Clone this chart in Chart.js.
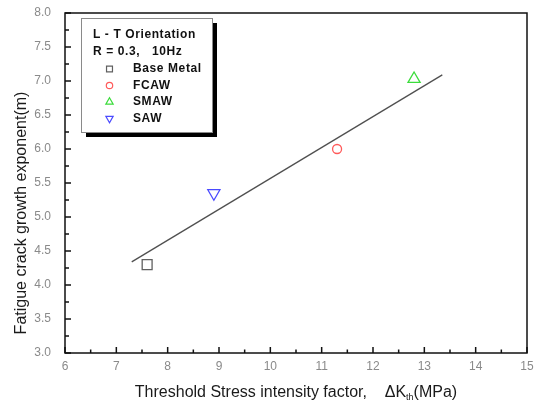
<!DOCTYPE html>
<html>
<head>
<meta charset="utf-8">
<script src="https://cdn.jsdelivr.net/npm/chart.js@4.4.1/dist/chart.umd.min.js"></script>
<style>
  html, body { margin: 0; padding: 0; background: #fff; }
  #wrap { width: 542px; height: 406px; }
</style>
</head>
<body>
<div id="wrap"><canvas id="fatigueChart" width="542" height="406"></canvas></div>
<script>
// Values
const seriesNames = ['Base Metal', 'FCAW', 'SMAW', 'SAW'];
const deltaKth = [7.6, 11.3, 12.8, 8.9];        // MPa
const exponentM = [4.3, 6.0, 7.03, 5.35];
const fitX = [7.3, 13.35];
const fitY = [4.34, 7.09];
const xTickValues = [6, 7, 8, 9, 10, 11, 12, 13, 14, 15];
const yTickValues = [3.0, 3.5, 4.0, 4.5, 5.0, 5.5, 6.0, 6.5, 7.0, 7.5, 8.0];
const legendHeader = ['L - T Orientation', 'R = 0.3,   10Hz'];

const FONT = "'Liberation Sans', Arial, sans-serif";

// marker look per series
const markerStyles = [
    { pointStyle: 'rect', rotation: 0, color: '#606060', radius: 7 },
    { pointStyle: 'circle', rotation: 0, color: '#ff5a5a', radius: 4.5 },
    { pointStyle: 'triangle', rotation: 0, color: '#3bdc3b', radius: 7 },
    { pointStyle: 'triangle', rotation: 180, color: '#4a4aff', radius: 7 }
];

const datasets = seriesNames.map((name, i) => ({
    type: 'scatter',
    label: name,
    data: [{ x: deltaKth[i], y: exponentM[i] }],
    pointStyle: markerStyles[i].pointStyle,
    rotation: markerStyles[i].rotation,
    pointRadius: markerStyles[i].radius,
    pointHoverRadius: markerStyles[i].radius,
    borderColor: markerStyles[i].color,
    backgroundColor: 'rgba(0,0,0,0)',
    pointBorderWidth: 1.3,
    order: 1
}));

datasets.push({
    type: 'line',
    label: 'fit',
    data: fitX.map((x, i) => ({ x: x, y: fitY[i] })),
    borderColor: '#505050',
    borderWidth: 1.3,
    pointRadius: 0,
    fill: false,
    order: 2
});

// frame plus inward major/minor ticks
const frameTicks = {
    id: 'frameTicks',
    afterDatasetsDraw(chart) {
        const { ctx, chartArea: a, scales } = chart;
        const xs = scales.x, ys = scales.y;
        ctx.save();
        ctx.strokeStyle = '#111';
        ctx.lineWidth = 1.5;
        ctx.beginPath();
        for (let v = xs.min; v <= xs.max + 1e-9; v += 0.5) {
            const px = xs.getPixelForValue(v);
            const len = Number.isInteger(v) ? 6 : 3.5;
            ctx.moveTo(px, a.bottom);
            ctx.lineTo(px, a.bottom - len);
        }
        for (let v = ys.min; v <= ys.max + 1e-9; v += 0.25) {
            const py = ys.getPixelForValue(v);
            const len = Math.abs(v * 2 - Math.round(v * 2)) < 1e-6 ? 6 : 4;
            ctx.moveTo(a.left, py);
            ctx.lineTo(a.left + len, py);
        }
        ctx.stroke();
        ctx.strokeRect(a.left, a.top, a.right - a.left, a.bottom - a.top);
        ctx.restore();
    }
};

// axis titles (x title needs a subscript)
const axisTitles = {
    id: 'axisTitles',
    afterDraw(chart) {
        const { ctx, chartArea: a } = chart;
        ctx.save();
        ctx.fillStyle = '#1a1a1a';
        ctx.font = '16px ' + FONT;
        ctx.textBaseline = 'alphabetic';

        const part1 = 'Threshold Stress intensity factor,    \u0394K';
        const sub = 'th';
        const part2 = '(MPa)';
        const w1 = ctx.measureText(part1).width;
        const w3 = ctx.measureText(part2).width;
        ctx.font = '9px ' + FONT;
        const w2 = ctx.measureText(sub).width;
        let x = (a.left + a.right) / 2 - (w1 + w2 + w3) / 2;
        const base = 397;
        ctx.font = '16px ' + FONT;
        ctx.fillText(part1, x, base);
        x += w1;
        ctx.font = '9px ' + FONT;
        ctx.fillText(sub, x, base + 3);
        x += w2;
        ctx.font = '16px ' + FONT;
        ctx.fillText(part2, x, base);

        ctx.translate(22, 213);
        ctx.rotate(-Math.PI / 2);
        ctx.textAlign = 'center';
        ctx.textBaseline = 'middle';
        ctx.fillText('Fatigue crack growth exponent(m)', 0, 0);
        ctx.restore();
    }
};

// boxed legend with drop shadow, top-left inside the plot
const boxLegend = {
    id: 'boxLegend',
    afterDraw(chart) {
        const ctx = chart.ctx;
        const bx = 81, by = 18, bw = 131, bh = 114;
        ctx.save();
        ctx.fillStyle = '#000';
        ctx.fillRect(bx + 5, by + 5, bw, bh);
        ctx.fillStyle = '#fff';
        ctx.fillRect(bx, by, bw, bh);
        ctx.strokeStyle = '#8a8a8a';
        ctx.lineWidth = 1;
        ctx.strokeRect(bx + 0.5, by + 0.5, bw, bh);

        ctx.fillStyle = '#111';
        ctx.font = 'bold 12px ' + FONT;
        ctx.letterSpacing = '0.6px';
        ctx.textBaseline = 'middle';
        legendHeader.forEach((line, i) => {
            ctx.fillText(line, 93, 35 + i * 17);
        });

        const rows = [69, 85.5, 102, 118.5];
        seriesNames.forEach((name, i) => {
            const ds = chart.data.datasets[i];
            ctx.strokeStyle = ds.borderColor;
            ctx.fillStyle = 'rgba(0,0,0,0)';
            ctx.lineWidth = 1.2;
            Chart.helpers.drawPoint(ctx, {
                pointStyle: ds.pointStyle,
                rotation: ds.rotation,
                radius: ds.pointStyle === 'circle' ? 3.2 : 4.2,
                borderWidth: 1.2
            }, 109.5, rows[i]);
            ctx.fillStyle = '#111';
            ctx.fillText(name, 133, rows[i]);
        });
        ctx.restore();
    }
};

const chart = new Chart(document.getElementById('fatigueChart').getContext('2d'), {
    data: { datasets: datasets },
    options: {
        responsive: false,
        animation: false,
        devicePixelRatio: 1,
        layout: { padding: { left: 0, right: 15, top: 13, bottom: 0 } },
        plugins: {
            legend: { display: false },
            tooltip: { enabled: false }
        },
        scales: {
            x: {
                type: 'linear',
                min: xTickValues[0],
                max: xTickValues[xTickValues.length - 1],
                afterBuildTicks: s => { s.ticks = xTickValues.map(v => ({ value: v })); },
                afterFit: s => { s.height = 53; s.paddingLeft = 0; s.paddingRight = 0; },
                grid: { display: false, drawTicks: false },
                border: { display: false },
                ticks: {
                    padding: 6,
                    color: '#8a8a8a',
                    font: { family: FONT, size: 12 },
                    callback: v => String(v)
                }
            },
            y: {
                type: 'linear',
                min: yTickValues[0],
                max: yTickValues[yTickValues.length - 1],
                afterBuildTicks: s => { s.ticks = yTickValues.map(v => ({ value: v })); },
                afterFit: s => { s.width = 65; s.paddingTop = 0; s.paddingBottom = 0; },
                grid: { display: false, drawTicks: false },
                border: { display: false },
                ticks: {
                    padding: 14,
                    color: '#8a8a8a',
                    font: { family: FONT, size: 12 },
                    callback: v => v.toFixed(1)
                }
            }
        }
    },
    plugins: [frameTicks, axisTitles, boxLegend]
});
</script>
</body>
</html>
